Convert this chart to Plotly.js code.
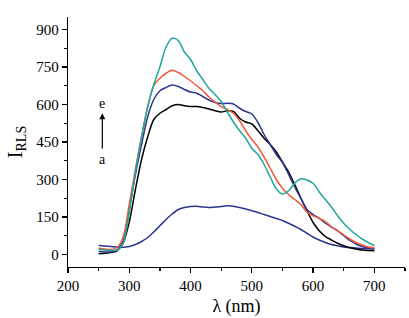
<!DOCTYPE html>
<html><head><meta charset="utf-8">
<script src="https://cdn.plot.ly/plotly-3.0.1.min.js"></script>
<style>html,body{margin:0;padding:0;background:#fff;}#chart{width:409px;height:318px;}</style>
</head><body><div id="chart"></div>
<script>
const wavelength = [250,260,270,280,290,300,310,320,330,340,350,360,370,380,390,400,410,420,430,440,450,460,470,480,490,500,510,520,530,540,550,560,570,580,590,600,610,620,630,640,650,660,670,680,690,700];
const curveA = [36,34,32,30,29,32,40,52,68,90,115,140,162,180,188,192,193,190,188,190,192,195,193,188,182,175,168,160,152,144,136,125,113,100,85,70,58,48,40,35,30,28,26,24,23,22];
const curveB = [3,5,8,15,45,130,260,380,470,540,565,580,595,600,595,592,592,588,582,575,570,575,572,545,530,522,495,465,440,410,370,330,280,225,175,128,95,72,58,45,35,27,22,18,16,15];
const curveC = [12,10,10,18,55,180,320,440,550,620,655,668,678,672,660,650,645,632,618,608,604,605,602,585,572,562,528,480,440,400,368,320,270,225,180,160,145,125,110,95,75,56,42,32,26,23];
const curveD = [25,22,20,28,70,200,340,470,590,675,705,725,737,728,712,695,675,655,630,610,592,580,565,535,495,460,430,390,345,300,265,240,220,200,170,155,145,132,110,95,78,62,48,38,30,27];
const curveE = [20,18,16,18,45,170,330,470,590,680,750,830,865,855,810,780,735,700,665,640,612,570,530,495,465,425,400,360,310,262,242,255,285,303,298,285,250,220,190,155,125,100,80,62,48,36];
const seriesNames = ['a','b','c','d','e'];
const seriesValues = [curveA, curveB, curveC, curveD, curveE];
const seriesColors = ['#2c3590','#000000','#2c3590','#f05a3a','#1fa89a'];
const xTicks = [200,300,400,500,600,700];
const yTicks = [0,150,300,450,600,750,900];

const traces = seriesValues.map((v,i)=>({
  x: wavelength, y: v, name: seriesNames[i], type:'scatter', mode:'lines',
  line:{color:seriesColors[i], width:1.5, shape:'spline', smoothing:0.8}
}));

const serif = '"Liberation Serif", "Times New Roman", serif';
const layout = {
  width:409, height:318,
  margin:{l:68, r:4, t:17, b:51},
  paper_bgcolor:'#fff', plot_bgcolor:'#fff',
  showlegend:false,
  font:{family:serif, color:'#000', size:14},
  xaxis:{
    range:[200,750], tickvals:xTicks, ticktext:xTicks.map(String),
    showline:true, linecolor:'#000', linewidth:1.2, zeroline:false, showgrid:false,
    ticks:'outside', ticklen:5, tickcolor:'#000', tickwidth:1.2,
    minor:{ticks:'outside', ticklen:3, dtick:50, tick0:200, tickcolor:'#000', tickwidth:1.2, showgrid:false},
    tickfont:{family:serif, size:15, color:'#000'},
    title:{text:'λ (nm)', font:{family:serif, size:18, color:'#000'}, standoff:6}
  },
  yaxis:{
    range:[-50,950], tickvals:yTicks, ticktext:yTicks.map(String),
    showline:true, linecolor:'#000', linewidth:1.2, zeroline:false, showgrid:false,
    ticks:'outside', ticklen:5, tickcolor:'#000', tickwidth:1.2,
    minor:{ticks:'outside', ticklen:3, dtick:75, tick0:0, tickcolor:'#000', tickwidth:1.2, showgrid:false},
    tickfont:{family:serif, size:15, color:'#000'},
    title:{text:'I<sub>RLS</sub>', font:{family:serif, size:20, color:'#000'}, standoff:8}
  },
  annotations:[
    {x:256, y:603, xref:'x', yref:'y', text:'e', showarrow:false, font:{family:serif, size:14, color:'#000'}},
    {x:256, y:380, xref:'x', yref:'y', text:'a', showarrow:false, font:{family:serif, size:14, color:'#000'}},
    {x:256, y:565, ax:256, ay:418, xref:'x', yref:'y', axref:'x', ayref:'y', text:'', showarrow:true,
     arrowhead:2, arrowsize:1, arrowwidth:1.2, arrowcolor:'#000'}
  ]
};
Plotly.newPlot('chart', traces, layout, {displayModeBar:false, staticPlot:true});
</script>
</body></html>
